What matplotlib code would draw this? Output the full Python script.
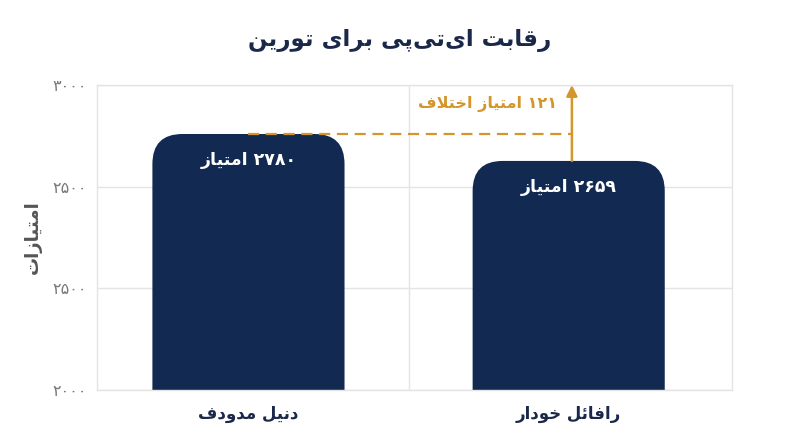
import re
import matplotlib
matplotlib.use("Agg")
import matplotlib.pyplot as plt
from matplotlib.patches import FancyBboxPatch

# ---------------- data ----------------
title_text = "رقابت ای‌تی‌پی برای تورین"
y_label_text = "امتیازات"
players = ["دنیل مدودف", "رافائل خودار"]
points = [2780, 2659]
value_labels = ["۲۷۸۰ امتیاز", "۲۶۵۹ امتیاز"]
diff_label = "۱۲۱ امتیاز اختلاف"
y_tick_labels = ["۲۰۰۰", "۲۵۰۰", "۲۵۰۰", "۳۰۰۰"]
y_top = 3000

# ------------- minimal Persian shaping (matplotlib has no Arabic shaping) -------------
FORMS = {
    'ا': ('\uFE8D', '\uFE8E', None, None),
    'ب': ('\uFE8F', '\uFE90', '\uFE91', '\uFE92'),
    'پ': ('\uFB56', '\uFB57', '\uFB58', '\uFB59'),
    'ت': ('\uFE95', '\uFE96', '\uFE97', '\uFE98'),
    'خ': ('\uFEA5', '\uFEA6', '\uFEA7', '\uFEA8'),
    'د': ('\uFEA9', '\uFEAA', None, None),
    'ر': ('\uFEAD', '\uFEAE', None, None),
    'ز': ('\uFEAF', '\uFEB0', None, None),
    'ف': ('\uFED1', '\uFED2', '\uFED3', '\uFED4'),
    'ق': ('\uFED5', '\uFED6', '\uFED7', '\uFED8'),
    'ل': ('\uFEDD', '\uFEDE', '\uFEDF', '\uFEE0'),
    'م': ('\uFEE1', '\uFEE2', '\uFEE3', '\uFEE4'),
    'ن': ('\uFEE5', '\uFEE6', '\uFEE7', '\uFEE8'),
    'و': ('\uFEED', '\uFEEE', None, None),
    'ئ': ('\uFE89', '\uFE8A', '\uFE8B', '\uFE8C'),
    'ی': ('\uFBFC', '\uFBFD', '\uFBFE', '\uFBFF'),
}


def joins_next(c):
    return c in FORMS and FORMS[c][2] is not None


def shape(s):
    ch = list(s)
    n = len(ch)
    res = []
    i = 0
    while i < n:
        c = ch[i]
        if c not in FORMS:
            if c != '\u200c':
                res.append(c)
            i += 1
            continue
        prev = ch[i - 1] if i > 0 else None
        cprev = prev is not None and joins_next(prev)
        if c == 'ل' and i + 1 < n and ch[i + 1] == 'ا':
            res.append('\uFEFC' if cprev else '\uFEFB')
            i += 2
            continue
        nxt = ch[i + 1] if i + 1 < n else None
        cnext = joins_next(c) and nxt is not None and nxt in FORMS
        iso, fin, ini, med = FORMS[c]
        if cprev and cnext:
            f = med
        elif cprev:
            f = fin
        elif cnext:
            f = ini
        else:
            f = iso
        res.append(f)
        i += 1
    vis = ''.join(reversed(res))
    vis = re.sub(r'[\u06F0-\u06F90-9]+', lambda m: m.group(0)[::-1], vis)
    return vis


# ---------------- style ----------------
NAVY = "#122a52"
TITLE = "#1a2849"
ORANGE = "#d4952b"
GRID = "#e4e4e4"
TICK = "#7a7a7a"
YLAB = "#555555"
FONT = ["DejaVu Sans"]

fig = plt.figure(figsize=(8, 4.47), dpi=100)
fig.patch.set_facecolor("white")
ax = fig.add_axes([0.12125, 0.1275, 0.79375, 0.6823])

y_min = 1630
ax.set_ylim(y_min, y_top)
ax.set_xlim(-0.473, 1.51)

x = list(range(len(players)))
bars = ax.bar(x, points, width=0.6, color=NAVY, zorder=2)

# replace bars with round-topped versions
fig.canvas.draw()
px_per_x = ax.transData.transform((1, 0))[0] - ax.transData.transform((0, 0))[0]
px_per_y = ax.transData.transform((0, 1))[1] - ax.transData.transform((0, 0))[1]
r_px = 30
r_x = r_px / px_per_x
aspect = (1 / px_per_y) / (1 / px_per_x)
for b in bars:
    b.set_visible(False)
    x0 = b.get_x()
    w = b.get_width()
    h = b.get_height()
    bottom = y_min - 400
    patch = FancyBboxPatch((x0, bottom), w, h - bottom,
                           boxstyle=f"round,pad=0,rounding_size={r_x}",
                           mutation_aspect=aspect, facecolor=NAVY,
                           edgecolor="none", zorder=2, clip_on=True)
    ax.add_patch(patch)
    patch.set_clip_path(ax.patch)

# grid & frame
ticks = [y_min + (y_top - y_min) * k / 3 for k in range(4)]
ax.set_yticks(ticks)
ax.set_yticklabels(y_tick_labels, fontsize=11.5, color=TICK, family=FONT)
ax.yaxis.grid(True, color=GRID, lw=1, zorder=0)
ax.axvline(0.5, color=GRID, lw=1, zorder=0)
for sp in ax.spines.values():
    sp.set_color(GRID)
    sp.set_linewidth(1)
ax.tick_params(axis="both", length=0)
ax.tick_params(axis="y", pad=7)
ax.set_xticks(x)
ax.set_xticklabels([shape(p) for p in players], fontsize=12, fontweight="bold",
                   color=TITLE, family=FONT)
ax.tick_params(axis="x", pad=11)

# value labels
for xi, v, lab in zip(x, points, value_labels):
    ax.annotate(shape(lab), xy=(xi, v), xytext=(0, -19), textcoords="offset points",
                ha="center", va="center", color="white", fontsize=12.5,
                fontweight="bold", family=FONT, zorder=4)

# difference annotation
arrow_x = 1.01
ax.plot([0, arrow_x], [points[0], points[0]], color=ORANGE, lw=1.6,
        linestyle=(0, (5, 3)), zorder=3)
ax.annotate("", xy=(arrow_x, y_top), xytext=(arrow_x, points[1]),
            arrowprops=dict(arrowstyle="-|>", color=ORANGE, lw=1.8,
                            mutation_scale=16, shrinkA=0, shrinkB=0),
            zorder=3, annotation_clip=False)
ax.annotate(shape(diff_label), xy=(arrow_x, y_top), xytext=(-11, -14),
            textcoords="offset points", ha="right", va="center",
            color=ORANGE, fontsize=11.5, fontweight="bold", family=FONT)

fig.text(0.041, 0.47, shape(y_label_text), rotation=90, ha="center", va="center",
         fontsize=13, fontweight="bold", color=YLAB, family=FONT)
fig.text(0.5, 0.91, shape(title_text), ha="center", va="center", fontsize=16.5,
         fontweight="bold", color=TITLE, family=FONT)

fig.savefig("out.png", dpi=100, facecolor="white")
